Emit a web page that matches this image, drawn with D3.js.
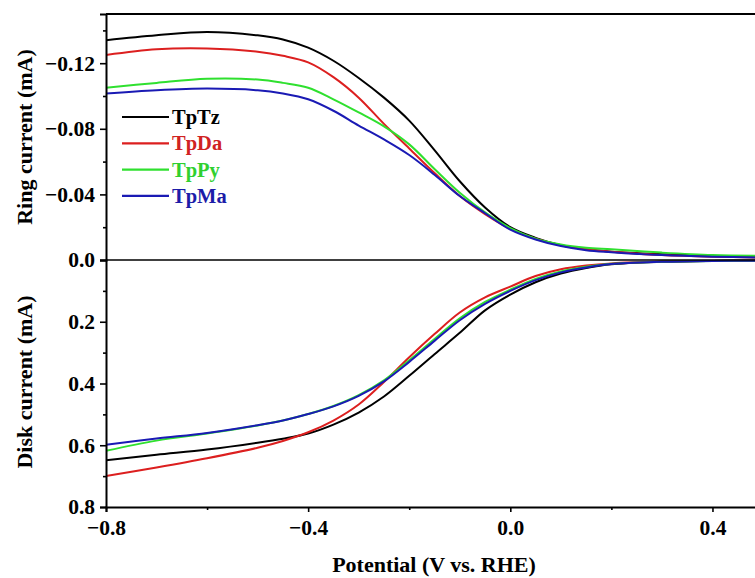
<!DOCTYPE html>
<html>
<head>
<meta charset="utf-8">
<script src="https://cdn.jsdelivr.net/npm/d3@7"></script>
<style>
  html, body { margin: 0; padding: 0; background: #fff; }
  svg { display: block; font-family: "Liberation Serif", "Times New Roman", serif; font-weight: bold; }
</style>
</head>
<body>
<svg id="chart" width="755" height="578"></svg>
<script>
// Potential sweep (V vs. RHE)
const potential = [-0.8, -0.7, -0.6, -0.5, -0.45, -0.4, -0.35, -0.3, -0.25, -0.2, -0.15, -0.1, -0.05, 0.0, 0.05, 0.1, 0.15, 0.2, 0.3, 0.4, 0.5];

// Ring current (mA), negative values
const ringTpTz = [-0.134, -0.137, -0.139, -0.137, -0.1345, -0.1295, -0.1215, -0.111, -0.099, -0.085, -0.067, -0.048, -0.032, -0.020, -0.0135, -0.009, -0.0065, -0.005, -0.0035, -0.0025, -0.002];
const ringTpDa = [-0.125, -0.1285, -0.129, -0.127, -0.1245, -0.1205, -0.1115, -0.099, -0.083, -0.068, -0.053, -0.039, -0.028, -0.019, -0.013, -0.009, -0.0065, -0.005, -0.003, -0.002, -0.0015];
const ringTpPy = [-0.105, -0.108, -0.1105, -0.110, -0.108, -0.105, -0.098, -0.090, -0.0815, -0.0705, -0.0555, -0.041, -0.029, -0.0195, -0.013, -0.0095, -0.0075, -0.0065, -0.0045, -0.003, -0.0025];
const ringTpMa = [-0.1015, -0.1035, -0.1045, -0.1035, -0.1015, -0.098, -0.091, -0.082, -0.0735, -0.064, -0.052, -0.039, -0.0285, -0.0185, -0.0125, -0.0085, -0.006, -0.0048, -0.003, -0.002, -0.0015];

// Disk current (mA)
const diskTpTz = [0.649, 0.631, 0.614, 0.592, 0.579, 0.562, 0.533, 0.494, 0.442, 0.375, 0.305, 0.236, 0.163, 0.112, 0.072, 0.044, 0.026, 0.014, 0.006, 0.003, 0.002];
const diskTpDa = [0.700, 0.672, 0.642, 0.608, 0.586, 0.558, 0.520, 0.468, 0.395, 0.315, 0.240, 0.170, 0.121, 0.086, 0.052, 0.030, 0.018, 0.011, 0.005, 0.003, 0.002];
const diskTpPy = [0.618, 0.585, 0.562, 0.536, 0.520, 0.499, 0.473, 0.438, 0.390, 0.325, 0.256, 0.189, 0.136, 0.096, 0.061, 0.037, 0.022, 0.012, 0.006, 0.003, 0.002];
const diskTpMa = [0.598, 0.578, 0.560, 0.535, 0.520, 0.499, 0.474, 0.440, 0.393, 0.330, 0.262, 0.195, 0.142, 0.100, 0.065, 0.040, 0.024, 0.013, 0.006, 0.003, 0.002];

const seriesNames = ["TpTz", "TpDa", "TpPy", "TpMa"];
const seriesColors = ["#000000", "#dc1f1f", "#2fe02f", "#1a1ab4"];
const legendColors = ["#000000", "#d02222", "#30d030", "#1c1ca8"];

// Axis ticks
const xTicks = [-0.8, -0.4, 0.0, 0.4];
const xTickLabels = ["\u22120.8", "\u22120.4", "0.0", "0.4"];
const xMinorTicks = [-0.6, -0.2, 0.2];
const ringTicks = [0.0, -0.04, -0.08, -0.12];
const ringTickLabels = ["0.0", "\u22120.04", "\u22120.08", "\u22120.12"];
const ringMinorTicks = [-0.02, -0.06, -0.10, -0.14];
const diskTicks = [0.2, 0.4, 0.6, 0.8];
const diskTickLabels = ["0.2", "0.4", "0.6", "0.8"];
const diskMinorTicks = [0.1, 0.3, 0.5, 0.7];

const ringData = [ringTpTz, ringTpDa, ringTpPy, ringTpMa];
const diskData = [diskTpTz, diskTpDa, diskTpPy, diskTpMa];

const svg = d3.select("#chart");
const plotLeft = 106, plotRight = 763, plotTop = 14, plotMid = 260, plotBottom = 507;

const x = d3.scaleLinear().domain([-0.8, 0.5]).range([plotLeft, plotRight]);
const yRing = d3.scaleLinear().domain([0, -0.15]).range([plotMid, plotTop]);
const yDisk = d3.scaleLinear().domain([0, 0.8]).range([plotMid, plotBottom]);

svg.append("defs").append("clipPath").attr("id", "plotClip")
  .append("rect").attr("x", plotLeft).attr("y", plotTop)
  .attr("width", plotRight - plotLeft).attr("height", plotBottom - plotTop);

const plot = svg.append("g").attr("clip-path", "url(#plotClip)");

// Curves: disk first, ring on top
const drawSet = (data, yScale) => {
  data.forEach((vals, i) => {
    const pts = potential.map((p, k) => [p, vals[k]]);
    plot.append("path")
      .datum(pts)
      .attr("fill", "none")
      .attr("stroke", seriesColors[i])
      .attr("stroke-width", 2)
      .attr("stroke-linejoin", "round")
      .attr("d", d3.line().x(d => x(d[0])).y(d => yScale(d[1])).curve(d3.curveCatmullRom.alpha(0.5)));
  });
};
drawSet(diskData, yDisk);
drawSet(ringData, yRing);

// Zero line separating the panels
svg.append("line").attr("x1", plotLeft).attr("x2", 755).attr("y1", plotMid).attr("y2", plotMid)
  .attr("stroke", "#000").attr("stroke-width", 1.4);

// Top frame
svg.append("line").attr("x1", plotLeft).attr("x2", 755).attr("y1", plotTop).attr("y2", plotTop)
  .attr("stroke", "#000").attr("stroke-width", 2);

// Axes
const styleAxis = g => {
  g.select(".domain").attr("stroke-width", 2);
  g.selectAll(".tick line").attr("stroke-width", 1.6);
  g.selectAll(".tick text").attr("font-size", 21.5).attr("font-weight", "bold")
    .attr("font-family", "'Liberation Serif', 'Times New Roman', serif").attr("fill", "#000");
};
const styleMinor = g => {
  g.select(".domain").remove();
  g.selectAll(".tick line").attr("stroke-width", 1.6);
};

svg.append("g").attr("transform", `translate(${plotLeft},0)`)
  .call(d3.axisLeft(yRing).tickValues(ringTicks).tickSize(6).tickPadding(5)
    .tickFormat((d, i) => ringTickLabels[i]))
  .call(styleAxis);
svg.append("g").attr("transform", `translate(${plotLeft},0)`)
  .call(d3.axisLeft(yRing).tickValues(ringMinorTicks).tickSize(3).tickFormat(""))
  .call(styleMinor);

svg.append("g").attr("transform", `translate(${plotLeft},0)`)
  .call(d3.axisLeft(yDisk).tickValues(diskTicks).tickSize(6).tickPadding(5)
    .tickFormat((d, i) => diskTickLabels[i]))
  .call(styleAxis);
svg.append("g").attr("transform", `translate(${plotLeft},0)`)
  .call(d3.axisLeft(yDisk).tickValues(diskMinorTicks).tickSize(3).tickFormat(""))
  .call(styleMinor);

svg.append("g").attr("transform", `translate(0,${plotBottom})`)
  .call(d3.axisBottom(x).tickValues(xTicks).tickSize(5).tickPadding(8)
    .tickFormat((d, i) => xTickLabels[i]))
  .call(styleAxis);
svg.append("g").attr("transform", `translate(0,${plotBottom})`)
  .call(d3.axisBottom(x).tickValues(xMinorTicks).tickSize(3).tickFormat(""))
  .call(styleMinor);

// Axis titles
svg.append("text").attr("transform", "translate(32,137) rotate(-90)")
  .attr("text-anchor", "middle").attr("font-size", 22).text("Ring current (mA)");
svg.append("text").attr("transform", "translate(32,382) rotate(-90)")
  .attr("text-anchor", "middle").attr("font-size", 22).text("Disk current (mA)");
svg.append("text").attr("x", 434).attr("y", 572)
  .attr("text-anchor", "middle").attr("font-size", 22).text("Potential (V vs. RHE)");

// Legend
const legend = svg.append("g");
seriesNames.forEach((name, i) => {
  const yy = 117 + i * 26.3;
  legend.append("line").attr("x1", 122).attr("x2", 169).attr("y1", yy).attr("y2", yy)
    .attr("stroke", seriesColors[i]).attr("stroke-width", 2.2);
  legend.append("text").attr("x", 172).attr("y", yy + 7).attr("font-size", 20.5)
    .attr("fill", legendColors[i]).text(name);
});
</script>
</body>
</html>
